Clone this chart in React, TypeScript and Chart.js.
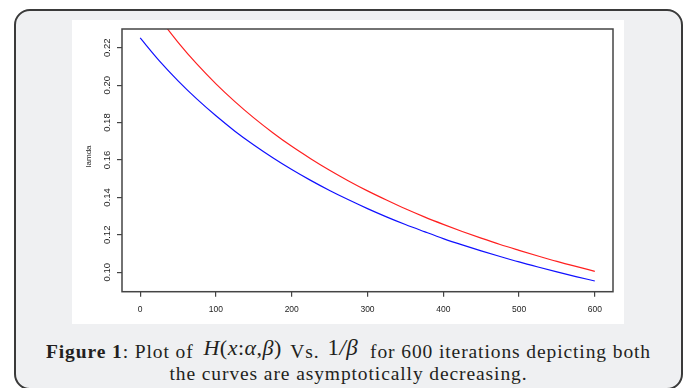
import React, { useEffect, useRef } from "react";
import { Chart, registerables } from "chart.js";

Chart.register(...registerables);

const iterations = [0, 25, 50, 75, 100, 125, 150, 175, 200, 225, 250, 275, 300, 325, 350, 375, 400, 425, 450, 475, 500, 525, 550, 575, 600];
const blueSeries = [0.2252, 0.2131, 0.2023, 0.1925, 0.1836, 0.1754, 0.168, 0.1612, 0.1549, 0.1491, 0.1437, 0.1387, 0.134, 0.1296, 0.1255, 0.1217, 0.118, 0.1146, 0.1114, 0.1084, 0.1055, 0.1028, 0.1002, 0.0977, 0.0953];
const redSeries = [0.2506, 0.236, 0.2229, 0.2112, 0.2007, 0.1912, 0.1825, 0.1746, 0.1673, 0.1607, 0.1545, 0.1488, 0.1435, 0.1386, 0.1339, 0.1296, 0.1256, 0.1218, 0.1182, 0.1148, 0.1117, 0.1087, 0.1058, 0.1031, 0.1005];
const xTicks = [0, 100, 200, 300, 400, 500, 600];
const yTicks = [0.1, 0.12, 0.14, 0.16, 0.18, 0.2, 0.22];
const yTickLabels = ["0.10", "0.12", "0.14", "0.16", "0.18", "0.20", "0.22"];
const yTitle = "lamda";

const SANS = '"Liberation Sans", Arial, sans-serif';
const SERIF = '"Liberation Serif", "Times New Roman", serif';

export default function App() {
  const ref = useRef<HTMLCanvasElement | null>(null);
  useEffect(() => {
    if (!ref.current) return;
    const boxPlugin = {
      id: "rbox",
      afterDraw(chart: any) {
        const { ctx, chartArea: a } = chart;
        ctx.save();
        ctx.strokeStyle = "#444";
        ctx.lineWidth = 1.5;
        ctx.strokeRect(a.left, a.top, a.right - a.left, a.bottom - a.top);
        const ys = chart.scales.y;
        ctx.fillStyle = "#1e1e1e";
        ctx.font = `9.5px ${SANS}`;
        ctx.textAlign = "center";
        ctx.textBaseline = "middle";
        yTicks.forEach((v, i) => {
          const py = ys.getPixelForValue(v);
          ctx.save();
          ctx.translate(35.7, py);
          ctx.rotate(-Math.PI / 2);
          ctx.fillText(yTickLabels[i], 0, 0);
          ctx.restore();
        });
        ctx.font = `8px ${SANS}`;
        ctx.save();
        ctx.translate(16.3, (a.top + a.bottom) / 2 - 4);
        ctx.rotate(-Math.PI / 2);
        ctx.fillText(yTitle, 0, 0);
        ctx.restore();
        ctx.restore();
      },
    };
    const chart = new Chart(ref.current, {
      type: "line",
      data: {
        datasets: [
          {
            data: iterations.map((x, i) => ({ x, y: blueSeries[i] })),
            borderColor: "#1010ff",
            borderWidth: 1.2,
            pointRadius: 0,
            cubicInterpolationMode: "monotone",
          },
          {
            data: iterations.map((x, i) => ({ x, y: redSeries[i] })),
            borderColor: "#ff2020",
            borderWidth: 1.2,
            pointRadius: 0,
            cubicInterpolationMode: "monotone",
          },
        ],
      },
      options: {
        animation: false,
        responsive: false,
        maintainAspectRatio: false,
        layout: { padding: { top: 9, right: 11, left: 0, bottom: 0 } },
        plugins: { legend: { display: false }, tooltip: { enabled: false }, title: { display: false } },
        scales: {
          x: {
            type: "linear",
            min: -24,
            max: 624,
            afterBuildTicks: (s: any) => {
              s.ticks = xTicks.map((v) => ({ value: v }));
            },
            afterFit: (s: any) => {
              s.height = 32.3;
            },
            grid: { drawOnChartArea: false, drawTicks: true, tickLength: 5, color: "#444", lineWidth: 1.2 },
            border: { display: false },
            ticks: { font: { size: 8.5, family: SANS }, color: "#1e1e1e", padding: 8, maxRotation: 0, minRotation: 0, autoSkip: false },
          },
          y: {
            type: "linear",
            min: 0.0896,
            max: 0.23,
            afterBuildTicks: (s: any) => {
              s.ticks = yTicks.map((v) => ({ value: v }));
            },
            afterFit: (s: any) => {
              s.width = 50;
            },
            grid: { drawOnChartArea: false, drawTicks: true, tickLength: 5, color: "#444", lineWidth: 1.2 },
            border: { display: false },
            ticks: { display: false },
          },
        },
      },
      plugins: [boxPlugin],
    } as any);
    return () => chart.destroy();
  }, []);

  return (
    <div style={{ position: "fixed", left: 0, top: 0, width: 691, height: 388, background: "#fff", overflow: "hidden" }}>
      <div
        style={{
          position: "absolute",
          left: 14,
          top: 9,
          width: 669,
          height: 381,
          boxSizing: "border-box",
          border: "2px solid #3a3a3a",
          borderRadius: 16,
          background: "#eff0f2",
        }}
      />
      <div style={{ position: "absolute", left: 72, top: 20, width: 552, height: 304, background: "#fff" }}>
        <canvas ref={ref} width={552} height={304} style={{ display: "block", width: 552, height: 304 }} />
      </div>
      <div
        style={{
          position: "absolute",
          left: 14,
          width: 669,
          top: 340,
          textAlign: "center",
          fontFamily: SERIF,
          fontSize: 19.5,
          letterSpacing: "0.9px",
          lineHeight: "22px",
          color: "#231f20",
          whiteSpace: "nowrap",
        }}
      >
        <b>Figure 1</b>: Plot of{" "}
        <span style={{ position: "relative", top: -3, margin: "0 3px 0 4px", fontSize: 22, letterSpacing: "0.5px" }}>
          <i>H</i>(<i>x</i>:<i>α</i>,<i>β</i>)
        </span>{" "}
        Vs.{" "}
        <span style={{ position: "relative", top: -3, margin: "0 6px 0 2px", fontSize: 23, letterSpacing: "0.5px" }}>
          1<i>/β</i>
        </span>{" "}
        for 600 iterations depicting both
        <br />
        the curves are asymptotically decreasing.
      </div>
    </div>
  );
}
